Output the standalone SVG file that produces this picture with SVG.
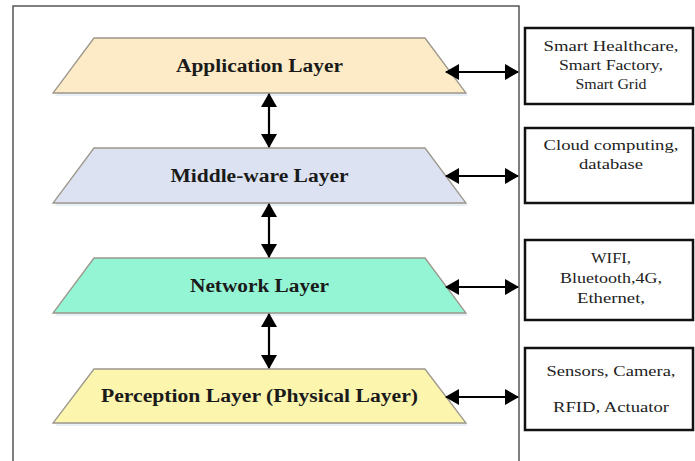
<svg xmlns="http://www.w3.org/2000/svg" width="695" height="461" viewBox="0 0 695 461">
<style>
.layer{stroke:#9c978c;stroke-width:1.3}
.shadow{fill:#dfe8f4;opacity:0.7}
.lbl{font-family:'Liberation Serif','Tinos','DejaVu Serif','Times New Roman',Times,serif;font-weight:bold;font-size:18px;fill:#1a1a1a;text-anchor:middle}
.box{fill:#fff;stroke:#111;stroke-width:2.5}
.btxt{font-family:'Liberation Serif','Tinos','DejaVu Serif','Times New Roman',Times,serif;font-size:15px;fill:#222;text-anchor:middle}
.conn{stroke:#000;stroke-width:2.2;fill:none}
</style>
<defs>
<marker id="ah" markerUnits="userSpaceOnUse" markerWidth="14" markerHeight="16" refX="13" refY="8" orient="auto-start-reverse" viewBox="0 0 14 16">
<path d="M0,0 L14,8 L0,16 Z" fill="#000"/>
</marker>
</defs>
<rect width="695" height="461" fill="#fff"/>
<path d="M13,461 V6 H519 V461" fill="none" stroke="#555" stroke-width="1.5"/>

<g id="application-layer">
<polygon class="shadow" points="96,41 427,41 468,96 55,96"/>
<polygon class="layer" fill="#fcebc6" points="94,38 425,38 466,93 53,93"/>
<text class="lbl" x="259.5" y="72" textLength="167" lengthAdjust="spacingAndGlyphs">Application Layer</text>
</g>
<g id="middleware-layer">
<polygon class="shadow" points="96,151 427,151 468,206 55,206"/>
<polygon class="layer" fill="#dce2f1" points="94,148 425,148 466,203 53,203"/>
<text class="lbl" x="259.5" y="182" textLength="178" lengthAdjust="spacingAndGlyphs">Middle-ware Layer</text>
</g>
<g id="network-layer">
<polygon class="shadow" points="96,261 427,261 468,316 55,316"/>
<polygon class="layer" fill="#93f5d4" points="94,258 425,258 466,313 53,313"/>
<text class="lbl" x="259.5" y="292" textLength="139" lengthAdjust="spacingAndGlyphs">Network Layer</text>
</g>
<g id="perception-layer">
<polygon class="shadow" points="96,372 427,372 468,426 55,426"/>
<polygon class="layer" fill="#fbf5ae" points="94,369 425,369 466,423 53,423"/>
<text class="lbl" x="259.5" y="402" textLength="317" lengthAdjust="spacingAndGlyphs">Perception Layer (Physical Layer)</text>
</g>

<g id="box-application">
<rect class="box" x="525" y="28" width="168" height="76"/>
<text class="btxt" x="611" y="51" textLength="135" lengthAdjust="spacingAndGlyphs">Smart Healthcare,</text>
<text class="btxt" x="611" y="70" textLength="104" lengthAdjust="spacingAndGlyphs">Smart Factory,</text>
<text class="btxt" x="611" y="89" textLength="71" lengthAdjust="spacingAndGlyphs">Smart Grid</text>
</g>
<g id="box-middleware">
<rect class="box" x="525" y="128" width="168" height="75"/>
<text class="btxt" x="611" y="150" textLength="135" lengthAdjust="spacingAndGlyphs">Cloud computing,</text>
<text class="btxt" x="611" y="169" textLength="64" lengthAdjust="spacingAndGlyphs">database</text>
</g>
<g id="box-network">
<rect class="box" x="525" y="240" width="168" height="80"/>
<text class="btxt" x="611" y="263" textLength="40" lengthAdjust="spacingAndGlyphs">WIFI,</text>
<text class="btxt" x="611" y="283" textLength="102" lengthAdjust="spacingAndGlyphs">Bluetooth,4G,</text>
<text class="btxt" x="611" y="303" textLength="68" lengthAdjust="spacingAndGlyphs">Ethernet,</text>
</g>
<g id="box-perception">
<rect class="box" x="525" y="348" width="168" height="82"/>
<text class="btxt" x="611" y="376" textLength="129" lengthAdjust="spacingAndGlyphs">Sensors, Camera,</text>
<text class="btxt" x="611" y="412" textLength="116" lengthAdjust="spacingAndGlyphs">RFID, Actuator</text>
</g>

<g id="connectors">
<line class="conn" x1="269" y1="94" x2="269" y2="147" marker-start="url(#ah)" marker-end="url(#ah)"/>
<line class="conn" x1="269" y1="204" x2="269" y2="257" marker-start="url(#ah)" marker-end="url(#ah)"/>
<line class="conn" x1="269" y1="314" x2="269" y2="368" marker-start="url(#ah)" marker-end="url(#ah)"/>
<line class="conn" x1="446" y1="72" x2="518" y2="72" marker-start="url(#ah)" marker-end="url(#ah)"/>
<line class="conn" x1="446" y1="176" x2="518" y2="176" marker-start="url(#ah)" marker-end="url(#ah)"/>
<line class="conn" x1="446" y1="287" x2="518" y2="287" marker-start="url(#ah)" marker-end="url(#ah)"/>
<line class="conn" x1="446" y1="397" x2="518" y2="397" marker-start="url(#ah)" marker-end="url(#ah)"/>
</g>
</svg>
